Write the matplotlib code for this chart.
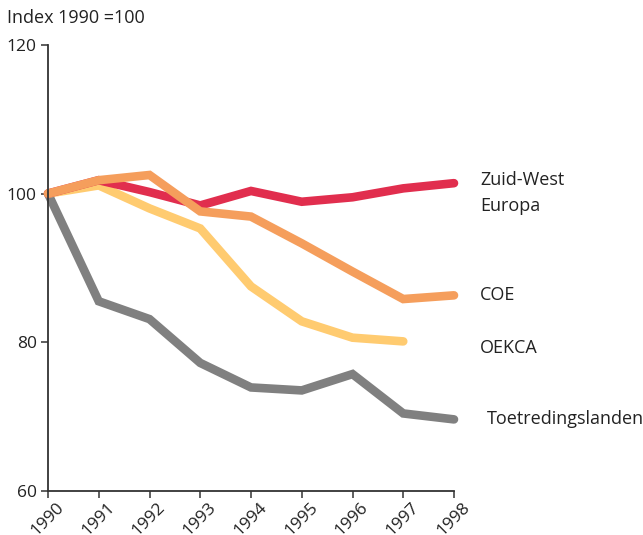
import matplotlib
matplotlib.use("Agg")
import matplotlib.pyplot as plt
import matplotlib.transforms as mtransforms

years = [1990, 1991, 1992, 1993, 1994, 1995, 1996, 1997, 1998]
zuidwest = [100, 101.8, 100.2, 98.4, 100.35, 98.9, 99.5, 100.7, 101.4]
coe = [100, 101.8, 102.5, 97.6, 96.9, 93.3, 89.5, 85.8, 86.3]
oekca_years = [1990, 1991, 1992, 1993, 1994, 1995, 1996, 1997]
oekca = [100, 101.1, 98.0, 95.3, 87.5, 82.8, 80.6, 80.1]
toetreding = [100, 85.5, 83.1, 77.2, 73.9, 73.5, 75.7, 70.4, 69.6]
yticks = [60, 80, 100, 120]

plt.rcParams['font.family'] = ['Open Sans', 'DejaVu Sans']
fig = plt.figure(figsize=(6.43, 5.35), dpi=100)
ax = fig.add_axes([48/643, 1-490.7/535, (454-48)/643, (490.7-45)/535])

lw = 6.2
kw = dict(linewidth=lw, solid_capstyle='round', solid_joinstyle='miter', clip_on=False)
ax.plot(years, toetreding, color='#808080', **kw)
ax.plot(oekca_years, oekca, color='#FFCB70', **kw)
ax.plot(years, zuidwest, color='#E12E4E', **kw)
ax.plot(years, coe, color='#F59E5C', **kw)

ax.set_xlim(1990, 1998)
ax.set_ylim(60, 120)
ax.set_yticks(yticks)
ax.set_xticks(years)
ax.set_xticklabels([])
trans = mtransforms.blended_transform_factory(ax.transData, ax.transAxes) + \
    mtransforms.ScaledTranslation(8/100, -9/100, fig.dpi_scale_trans)
for y in years:
    ax.text(y, 0, str(y), transform=trans, rotation=45, ha='right', va='top',
            rotation_mode='anchor', fontsize=12.5, color='#222222', clip_on=False)
for s in ['top', 'right']:
    ax.spines[s].set_visible(False)
for s in ['left', 'bottom']:
    ax.spines[s].set_color('#333333')
    ax.spines[s].set_linewidth(1.3)
ax.tick_params(axis='both', colors='#333333', labelsize=12.5, length=5, width=1.1,
               labelcolor='#222222')
ax.tick_params(axis='y', pad=3)

fig.text(7/643, 1-18/535, 'Index 1990 =100', fontsize=13, color='#222222', va='center')

lab = dict(fontsize=13, color='#222222', va='center', transform=fig.transFigure)
fig.text(480/643, 1-180/535, 'Zuid-West', **lab)
fig.text(480/643, 1-206/535, 'Europa', **lab)
fig.text(480/643, 1-295/535, 'COE', **lab)
fig.text(480/643, 1-348/535, 'OEKCA', **lab)
fig.text(487/643, 1-419/535, 'Toetredingslanden', **lab)

fig.savefig('out.png', dpi=100)
